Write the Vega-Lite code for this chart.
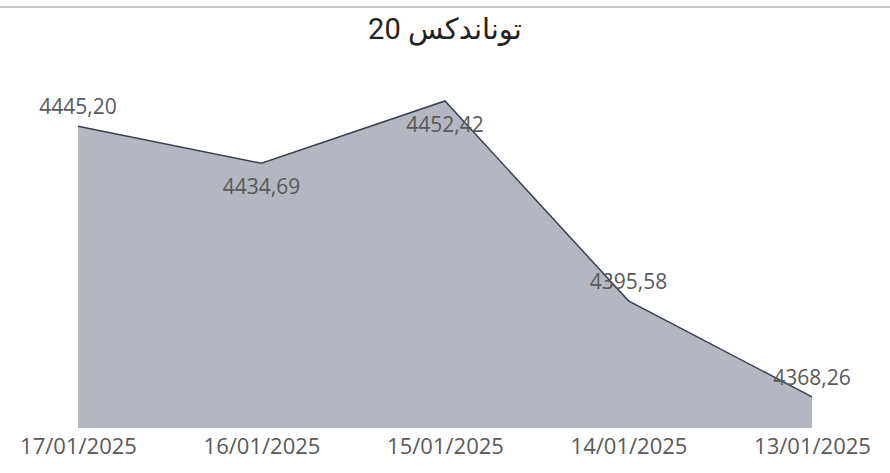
{
  "$schema": "https://vega.github.io/schema/vega-lite/v6.json",
  "width": 890,
  "height": 421,
  "autosize": {"type": "none"},
  "padding": {"top": 7, "left": 0, "right": 0, "bottom": 45},
  "background": "white",
  "config": {"view": {"stroke": null}},
  "title": {
    "text": "توناندكس 20",
    "font": "Roboto, DejaVu Sans",
    "fontSize": 29,
    "fontWeight": "normal",
    "color": "#222222",
    "anchor": "middle",
    "baseline": "middle",
    "offset": -53
  },
  "data": {
    "values": [
      {"date": "17/01/2025", "value": 4445.20, "label": "4445,20"},
      {"date": "16/01/2025", "value": 4434.69, "label": "4434,69"},
      {"date": "15/01/2025", "value": 4452.42, "label": "4452,42"},
      {"date": "14/01/2025", "value": 4395.58, "label": "4395,58"},
      {"date": "13/01/2025", "value": 4368.26, "label": "4368,26"}
    ]
  },
  "encoding": {
    "x": {
      "field": "date",
      "type": "ordinal",
      "sort": null,
      "scale": {"type": "point", "padding": 0.425},
      "axis": {
        "title": null,
        "labelAngle": 0,
        "ticks": false,
        "domain": false,
        "grid": false,
        "labelFont": "Open Sans",
        "labelFontSize": 22,
        "labelColor": "#595959",
        "labelPadding": 8
      }
    },
    "y": {
      "field": "value",
      "type": "quantitative",
      "scale": {"domain": [4359.4, 4479.15], "zero": false, "nice": false},
      "axis": null
    }
  },
  "layer": [
    {
      "mark": {"type": "area", "color": "#b4b7c0", "line": false, "clip": true}
    },
    {
      "mark": {"type": "line", "color": "#374156", "strokeWidth": 1.5}
    },
    {
      "transform": [{"filter": "datum.date == '16/01/2025' || datum.date == '15/01/2025'"}],
      "mark": {"type": "text", "font": "Open Sans", "fontSize": 21, "color": "#595959", "dy": 25, "baseline": "middle"},
      "encoding": {"text": {"field": "label"}}
    },
    {
      "transform": [{"filter": "datum.date != '16/01/2025' && datum.date != '15/01/2025'"}],
      "mark": {"type": "text", "font": "Open Sans", "fontSize": 21, "color": "#595959", "dy": -18, "baseline": "middle"},
      "encoding": {"text": {"field": "label"}}
    },
    {
      "data": {"values": [{"top": 4479.15}]},
      "mark": {"type": "rule", "color": "#c8c8c8", "strokeWidth": 2},
      "encoding": {"x": null, "y": {"field": "top", "type": "quantitative"}}
    }
  ]
}
